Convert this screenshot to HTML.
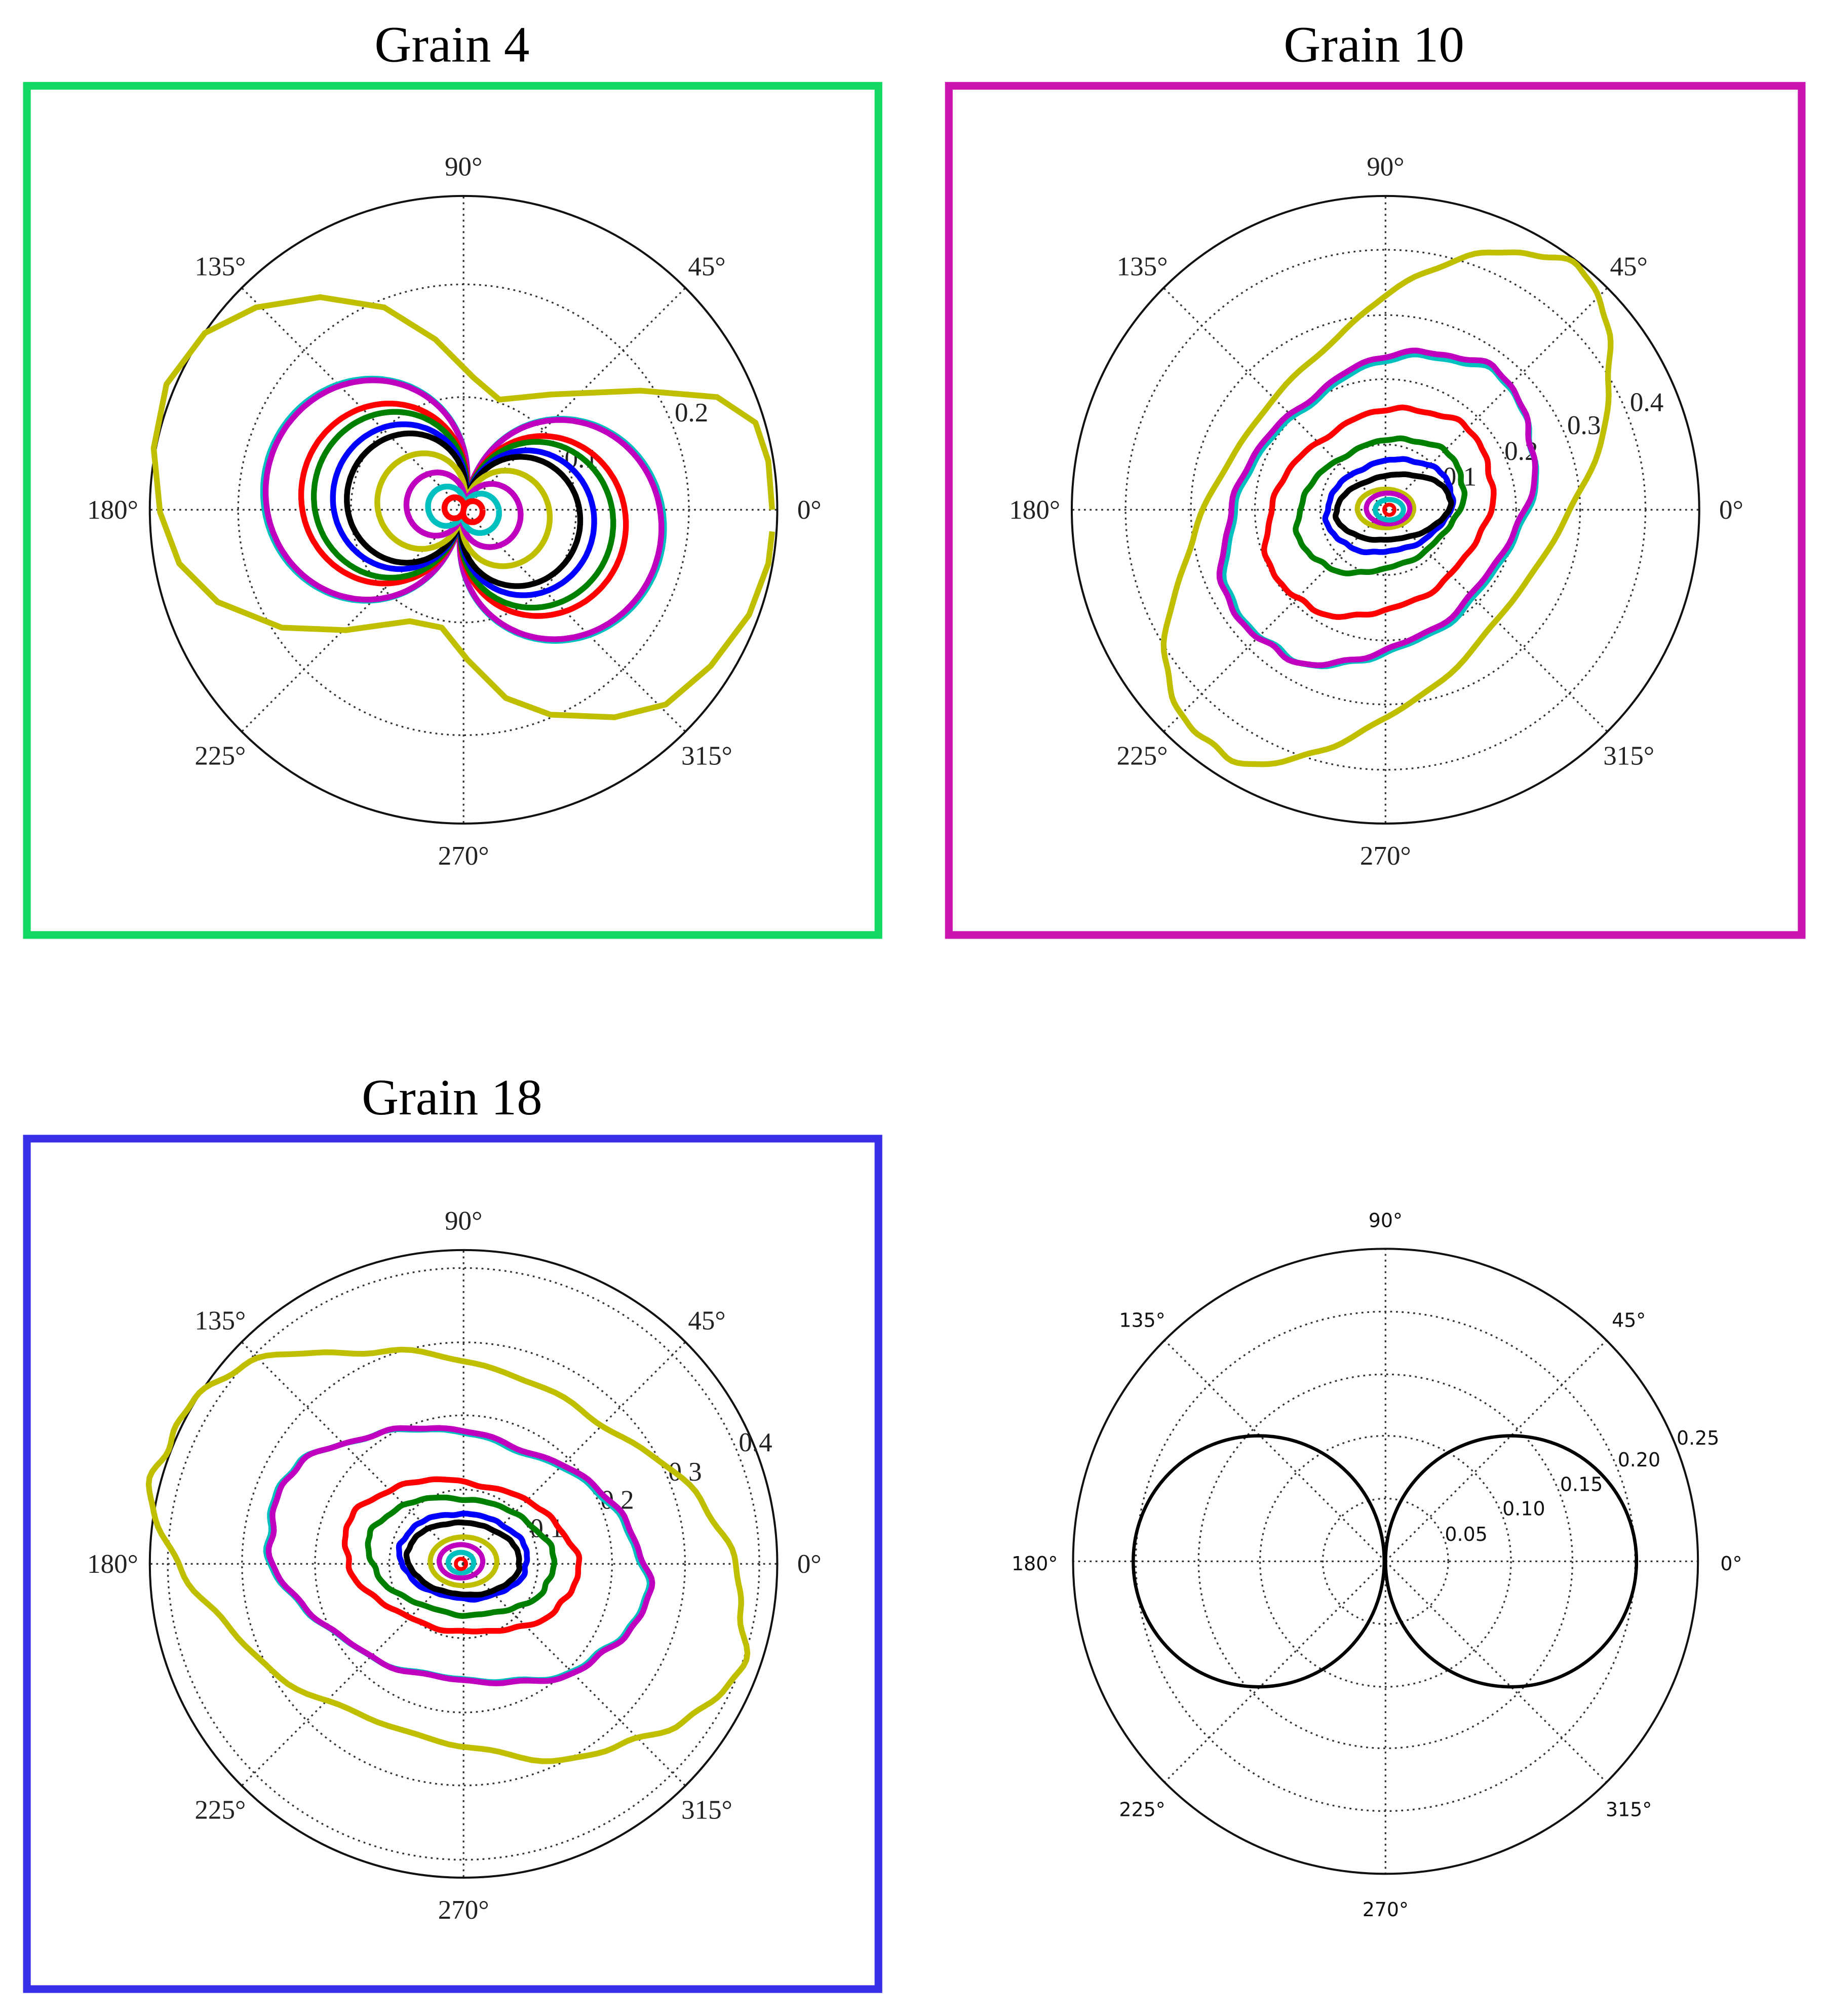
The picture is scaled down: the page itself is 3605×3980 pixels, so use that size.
<!DOCTYPE html>
<html><head><meta charset="utf-8"><style>
html,body{margin:0;padding:0;background:#fff;}
svg{display:block;}
.t{font-family:"Liberation Serif",serif;font-size:40px;text-anchor:middle;}
.a{font-family:"Liberation Serif",serif;font-size:21px;text-anchor:middle;fill:#222;}
.s{font-family:"DejaVu Sans","Liberation Sans",sans-serif;font-size:15px;text-anchor:middle;fill:#111;}
</style></head><body>
<svg id="g" width="3605" height="3980" viewBox="0 0 1426 1574" preserveAspectRatio="none" xmlns="http://www.w3.org/2000/svg">
<rect x="21" y="67" width="665" height="663" fill="none" stroke="#10d860" stroke-width="6"/>
<rect x="741" y="67" width="666" height="663" fill="none" stroke="#cc15b0" stroke-width="6"/>
<rect x="21" y="889" width="665" height="664" fill="none" stroke="#3a2fe8" stroke-width="6"/>
<text class="t" x="353" y="48">Grain 4</text>
<text class="t" x="1073" y="48">Grain 10</text>
<text class="t" x="353" y="870">Grain 18</text>
</svg>
<script>
var svg=document.getElementById('g'),NS='http://www.w3.org/2000/svg';
function el(n,a,txt){var e=document.createElementNS(NS,n);for(var k in a)e.setAttribute(k,a[k]);if(txt)e.textContent=txt;svg.appendChild(e);return e;}
function polar(cx,cy,R,rings,labels,cls,rl){
 rings.forEach(function(r){el('circle',{cx:cx,cy:cy,r:r,fill:'none',stroke:'#333','stroke-width':1.3,'stroke-dasharray':'1.5 3'});});
 for(var i=0;i<8;i++){var t=i*Math.PI/4;el('line',{x1:cx,y1:cy,x2:cx+R*Math.cos(t),y2:cy-R*Math.sin(t),stroke:'#333','stroke-width':1.3,'stroke-dasharray':'1.5 3'});}
 el('circle',{cx:cx,cy:cy,r:R,fill:'none',stroke:'#111','stroke-width':1.6});
 var L=['0°','45°','90°','135°','180°','225°','270°','315°'];
 var off=[[270,0],[190,-190],[0,-268],[-190,-190],[-274,0],[-190,192],[0,270],[190,192]];
 for(var i=0;i<8;i++)el('text',{'class':cls,x:cx+off[i][0],y:cy+off[i][1]+7},L[i]);
 (rl||[]).forEach(function(l){el('text',{'class':cls,x:cx+l[1],y:cy+l[2]+7},l[0]);});
}
function noise(t,s,amp){return amp*(Math.sin(7*t+s)*0.5+Math.sin(13*t+2*s)*0.3+Math.sin(23*t+3*s)*0.2);}
function ell(cx,cy,a,b,rot,col,w,amp,s){
 var d='',r=rot*Math.PI/180;
 for(var i=0;i<=180;i++){var t=i/180*2*Math.PI,n=1+noise(t,s,amp);
  var x=a*n*Math.cos(t),y=b*n*Math.sin(t);
  var X=cx+x*Math.cos(r)-y*Math.sin(r),Y=cy+x*Math.sin(r)+y*Math.cos(r);
  d+=(i?'L':'M')+X.toFixed(1)+' '+Y.toFixed(1);}
 el('path',{d:d+'Z',fill:'none',stroke:col,'stroke-width':w,'stroke-linejoin':'round'});
}
function lem(cx,cy,a,phi,col,w,p){
 var d='';for(var i=0;i<=360;i++){var t=i/360*2*Math.PI;var c=Math.cos(t-phi*Math.PI/180);
  var r=a*Math.pow(Math.abs(c),p);var X=cx+r*Math.cos(t),Y=cy-r*Math.sin(t);d+=(i?'L':'M')+X.toFixed(1)+' '+Y.toFixed(1);}
 el('path',{d:d,fill:'none',stroke:col,'stroke-width':w});
}
var Y='#bfbf00',C='#00bfbf',M='#bf00bf',G='#008000',B='#0000ff',Rd='#ff0000',K='#000';
// plot 1
polar(362,398,245,[88,176],null,'a',[['0.1',92,-40],['0.2',178,-76]]);
el('path',{d:'M603,398 L600,360 590,330 560,310 500,305 430,308 390,312 370,295 340,265 300,240 250,232 200,240 160,260 130,300 120,350 125,400 140,440 170,470 220,490 270,492 320,485 345,490 365,515 395,545 430,558 480,560 520,550 555,520 585,480 600,440 603,415',fill:'none',stroke:Y,'stroke-width':4.5,'stroke-linejoin':'round'});
[[158,C],[156,M],[128,Rd],[118,G],[103,B],[92,K],[68,Y],[45,M],[28,C],[15,Rd]].forEach(function(v){lem(362,398,v[0],-12,v[1],4.5,0.75);});
// plot 2
polar(1082,398,245,[51,102,152,203],null,'a',[['0.1',58,-26],['0.2',106,-46],['0.3',155,-66],['0.4',204,-84]]);
ell(1085,395,235,122,-52,Y,4.5,0.02,1);
ell(1078,398,138,100,-45,C,4.5,0.03,2);
ell(1076,396,140,100,-45,M,4.5,0.03,2);
ell(1077,400,95,73,-35,Rd,4.5,0.03,3);
ell(1078,395,68,48,-25,G,4.5,0.03,4);
ell(1085,395,50,35,-15,B,4.5,0.03,5);
ell(1088,396,45,25,-8,K,4.5,0.02,6);
ell(1082,397,22,15,0,Y,4,0,0);ell(1084,397,17,12,0,M,4,0,0);ell(1085,398,11,8,0,C,4,0,0);ell(1085,398,4,4,0,Rd,3,0,0);
// plot 3
polar(362,1221,245,[58,116,173,231],null,'a',[['0.1',65,-28],['0.2',120,-50],['0.3',173,-72],['0.4',228,-95]]);
ell(352,1212,240,145,20,Y,4.5,0.03,7);
ell(356,1215,150,95,13,C,4.5,0.03,8);
ell(358,1215,150,96,13,M,4.5,0.03,8);
ell(360,1215,92,58,10,Rd,4.5,0.03,9);
ell(360,1215,73,45,8,G,4.5,0.03,10);
ell(362,1215,50,33,5,B,4.5,0.03,11);
ell(362,1217,44,28,5,K,4.5,0.02,12);
ell(362,1219,26,19,0,Y,4,0,0);ell(360,1219,17,13,0,M,4,0,0);ell(360,1220,10,8,0,C,4,0,0);ell(360,1221,4,4,0,Rd,3,0,0);
// plot 4
polar(1082,1219,244,[49,98,146,195],null,'s',[['0.05',63,-23],['0.10',108,-43],['0.15',153,-62],['0.20',198,-81],['0.25',244,-98]]);
el('circle',{cx:983,cy:1219,r:98,fill:'none',stroke:'#000','stroke-width':2.6});
el('circle',{cx:1180,cy:1219,r:98,fill:'none',stroke:'#000','stroke-width':2.6});
</script>
</body></html>
